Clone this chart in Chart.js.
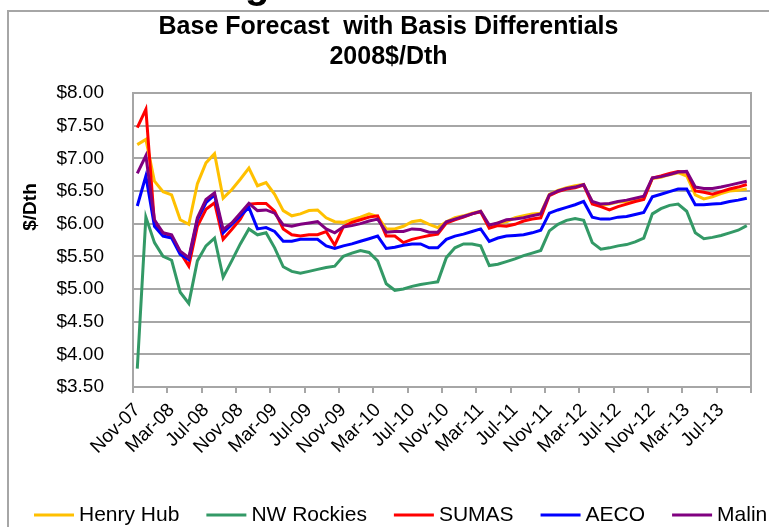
<!DOCTYPE html>
<html>
<head>
<meta charset="utf-8">
<script src="https://cdn.jsdelivr.net/npm/chart.js@4.4.1/dist/chart.umd.min.js"></script>
<style>
  body { margin: 0; background: #fff; }
</style>
</head>
<body>
<canvas id="myChart" width="769" height="527"></canvas>
<script>
// month categories, Nov-07 .. Oct-13
const monthNames = ['Jan','Feb','Mar','Apr','May','Jun','Jul','Aug','Sep','Oct','Nov','Dec'];
const months = [];
for (let i = 0; i < 72; i++) {
  const m = (10 + i) % 12;
  const y = 7 + Math.floor((10 + i) / 12);
  months.push(monthNames[m] + '-' + String(y).padStart(2, '0'));
}

const seriesNames = ['Henry Hub', 'NW Rockies', 'SUMAS', 'AECO', 'Malin'];
const seriesColors = ['#FFC000', '#339966', '#FF0000', '#0000FF', '#800080'];

const henryHub = [7.21,7.29,6.65,6.49,6.44,6.06,5.99,6.61,6.93,7.07,6.39,6.52,
  6.68,6.85,6.58,6.63,6.45,6.20,6.12,6.15,6.20,6.21,6.09,6.03,
  6.02,6.06,6.10,6.15,6.11,5.92,5.92,5.96,6.03,6.05,5.99,5.94,
  6.03,6.09,6.12,6.16,6.19,5.96,6.01,6.03,6.09,6.12,6.15,6.16,
  6.45,6.51,6.55,6.58,6.60,6.33,6.28,6.30,6.33,6.34,6.36,6.39,
  6.69,6.71,6.75,6.78,6.73,6.44,6.38,6.41,6.46,6.50,6.51,6.53];
const nwRockies = [3.78,6.10,5.71,5.50,5.44,4.95,4.78,5.43,5.66,5.78,5.18,5.43,
  5.69,5.92,5.83,5.86,5.63,5.34,5.27,5.24,5.27,5.30,5.33,5.35,
  5.50,5.55,5.59,5.56,5.43,5.08,4.98,5.00,5.04,5.07,5.09,5.11,
  5.48,5.63,5.69,5.69,5.66,5.36,5.38,5.42,5.46,5.51,5.55,5.59,
  5.89,5.99,6.05,6.08,6.05,5.71,5.61,5.63,5.66,5.68,5.72,5.78,
  6.15,6.23,6.28,6.30,6.19,5.86,5.77,5.79,5.82,5.86,5.90,5.97];
const sumas = [7.47,7.75,6.01,5.86,5.81,5.56,5.35,5.96,6.22,6.32,5.76,5.91,
  6.07,6.30,6.31,6.31,6.19,5.92,5.83,5.81,5.83,5.83,5.88,5.67,
  5.95,6.02,6.06,6.10,6.12,5.81,5.81,5.71,5.76,5.79,5.82,5.84,
  6.01,6.06,6.10,6.15,6.18,5.93,5.97,5.96,5.99,6.04,6.07,6.09,
  6.43,6.49,6.53,6.55,6.59,6.30,6.26,6.21,6.26,6.30,6.34,6.37,
  6.70,6.73,6.77,6.80,6.79,6.50,6.48,6.45,6.49,6.53,6.56,6.60];
const aeco = [6.27,6.73,5.96,5.81,5.78,5.53,5.45,6.06,6.32,6.44,5.86,5.99,
  6.12,6.25,5.92,5.94,5.88,5.73,5.73,5.76,5.76,5.76,5.66,5.62,
  5.66,5.69,5.73,5.77,5.81,5.62,5.64,5.67,5.69,5.69,5.63,5.63,
  5.76,5.81,5.84,5.88,5.92,5.73,5.78,5.81,5.82,5.83,5.86,5.90,
  6.16,6.21,6.25,6.29,6.34,6.10,6.07,6.07,6.10,6.11,6.14,6.17,
  6.41,6.45,6.49,6.53,6.53,6.29,6.29,6.30,6.31,6.34,6.36,6.39];
const malin = [6.77,7.04,6.06,5.86,5.83,5.58,5.48,6.09,6.37,6.47,5.91,6.01,
  6.16,6.31,6.20,6.21,6.16,5.98,5.96,5.99,6.01,6.03,5.92,5.86,
  5.95,5.97,6.00,6.04,6.07,5.87,5.88,5.88,5.92,5.91,5.87,5.87,
  6.03,6.07,6.11,6.15,6.19,5.98,6.01,6.06,6.07,6.09,6.12,6.15,
  6.44,6.50,6.54,6.56,6.60,6.34,6.30,6.31,6.34,6.36,6.39,6.42,
  6.70,6.72,6.75,6.79,6.80,6.56,6.54,6.54,6.56,6.59,6.62,6.65];

const allSeries = [henryHub, nwRockies, sumas, aeco, malin];
const titleLines = ['Base Forecast  with Basis Differentials', '2008$/Dth'];
const yTitle = '$/Dth';
const gridGray = '#a6a6a6';
const FONT = "'Liberation Sans', Arial, sans-serif";

// outer frame + cut-off letter from the slide heading above
const framePlugin = {
  id: 'frame',
  beforeDraw(chart) {
    const ctx = chart.ctx;
    ctx.save();
    ctx.fillStyle = '#000';
    ctx.font = 'bold 40px ' + FONT;
    ctx.textBaseline = 'alphabetic';
    ctx.fillText('g', 245, -2);
    ctx.strokeStyle = gridGray;
    ctx.lineWidth = 2;
    ctx.beginPath();
    ctx.moveTo(8, 527);
    ctx.lineTo(8, 11);
    ctx.lineTo(769, 11);
    ctx.stroke();
    ctx.restore();
  }
};

// y axis title and legend
const extrasPlugin = {
  id: 'extras',
  afterDraw(chart) {
    const ctx = chart.ctx;
    ctx.save();
    ctx.fillStyle = '#000';
    ctx.font = 'bold 19px ' + FONT;
    ctx.textAlign = 'center';
    ctx.textBaseline = 'middle';
    ctx.translate(31, 207);
    ctx.rotate(-Math.PI / 2);
    ctx.fillText(yTitle, 0, 0);
    ctx.restore();

    ctx.save();
    ctx.font = '21px ' + FONT;
    ctx.textBaseline = 'middle';
    let x = 34;
    const y = 515;
    seriesNames.forEach(function(name, idx) {
      ctx.fillStyle = seriesColors[idx];
      ctx.fillRect(x, y - 1.5, 40, 3);
      ctx.fillStyle = '#000';
      ctx.fillText(name, x + 45, y);
      x += 45 + ctx.measureText(name).width + 27;
    });
    ctx.restore();
  }
};

const ctx = document.getElementById('myChart').getContext('2d');
const myChart = new Chart(ctx, {
  type: 'line',
  data: {
    labels: months,
    datasets: seriesNames.map(function(name, idx) {
      return {
        label: name,
        data: allSeries[idx],
        borderColor: seriesColors[idx],
        backgroundColor: seriesColors[idx],
        borderWidth: 3,
        pointRadius: 0,
        tension: 0,
        order: 5 - idx,
      };
    }),
  },
  options: {
    responsive: false,
    animation: false,
    layout: { padding: { left: 8, right: 0, top: 0, bottom: 0 } },
    plugins: {
      legend: { display: false },
      tooltip: { enabled: false },
      title: {
        display: true,
        text: titleLines,
        color: '#000',
        font: { family: FONT, size: 25, weight: 'bold', lineHeight: 1.2 },
        padding: { top: 12, bottom: 21 },
      },
    },
    scales: {
      x: {
        type: 'category',
        offset: true,
        afterFit: function(scale) { scale.height = 140; },
        grid: {
          display: true,
          drawOnChartArea: false,
          drawTicks: true,
          tickLength: 6,
          offset: true,
          lineWidth: 2,
          color: function(c) {
            return (c.index === undefined || c.index % 4 === 0) ? gridGray : 'rgba(0,0,0,0)';
          },
        },
        border: { display: true, color: gridGray, width: 2 },
        ticks: {
          autoSkip: false,
          maxRotation: 45,
          minRotation: 45,
          padding: 6,
          color: '#000',
          font: { family: FONT, size: 19 },
          callback: function(val, idx) {
            return idx % 4 === 0 ? this.getLabelForValue(val) : '';
          },
        },
      },
      y: {
        min: 3.5,
        max: 8,
        afterFit: function(scale) { scale.width = 125; },
        grid: { color: gridGray, lineWidth: 2, drawTicks: false },
        border: { display: true, color: gridGray, width: 2 },
        ticks: {
          stepSize: 0.5,
          padding: 29,
          color: '#000',
          font: { family: FONT, size: 19 },
          callback: function(v) { return '$' + v.toFixed(2); },
        },
      },
      y2: {
        position: 'right',
        min: 3.5,
        max: 8,
        afterFit: function(scale) { scale.width = 14; },
        grid: { display: false },
        border: { display: true, color: gridGray, width: 2 },
        ticks: { display: false },
      },
    },
  },
  plugins: [framePlugin, extrasPlugin],
});
</script>
</body>
</html>
